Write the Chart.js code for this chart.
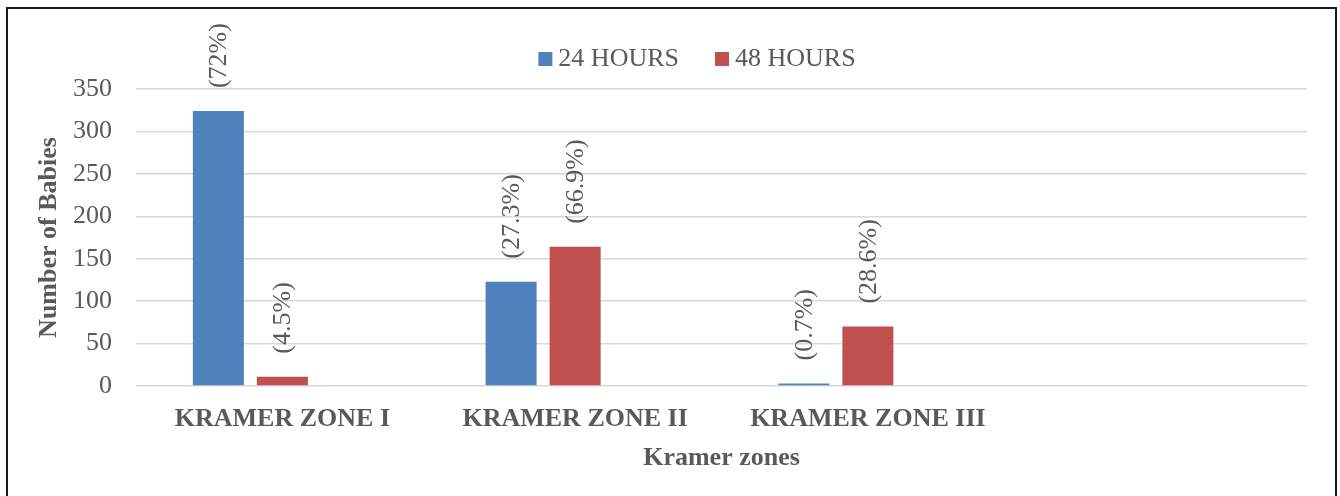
<!DOCTYPE html>
<html>
<head>
<meta charset="utf-8">
<script src="https://cdn.jsdelivr.net/npm/chart.js@4.4.1/dist/chart.umd.min.js"></script>
<style>
  html, body { margin: 0; padding: 0; background: #fff; overflow: hidden; }
  #wrap { position: absolute; left: 0; top: 0; width: 1340px; height: 496px; }
  #frame {
    position: absolute; left: 6px; top: 7px; width: 1327px; height: 600px;
    border: 2px solid #1a1a1a; pointer-events: none;
  }
</style>
</head>
<body>
<div id="wrap"><canvas id="kramerChart"></canvas></div>
<div id="frame"></div>
<script>
/* -------------------------------------------------------
   Data
------------------------------------------------------- */
const zones     = ['KRAMER ZONE I', 'KRAMER ZONE II', 'KRAMER ZONE III', ''];
const hours24   = [324, 123, 3, null];
const hours48   = [11, 164, 70, null];
const pct24     = ['(72%)', '(27.3%)', '(0.7%)', ''];
const pct48     = ['(4.5%)', '(66.9%)', '(28.6%)', ''];
const emptySlot = [null, null, null, null]; // unused third series keeps the spacing
const yMin = 0, yMax = 350, yStep = 50;

const COLORS = {
  blue: '#4F81BD',
  red:  '#C0504D',
  text: '#595959',
  grid: '#D9D9D9',
};
const FONT = "'Liberation Serif', 'Times New Roman', serif";

/* -------------------------------------------------------
   Rotated percentage labels above each bar
------------------------------------------------------- */
const barLabels = {
  id: 'barLabels',
  afterDatasetsDraw(chart) {
    const ctx = chart.ctx;
    ctx.save();
    ctx.font = '26px ' + FONT;
    ctx.fillStyle = COLORS.text;
    ctx.textAlign = 'left';
    ctx.textBaseline = 'middle';
    chart.data.datasets.forEach((ds, di) => {
      if (!ds.pct) return;
      chart.getDatasetMeta(di).data.forEach((bar, i) => {
        if (ds.data[i] == null || !ds.pct[i]) return;
        ctx.save();
        ctx.translate(bar.x + 1, bar.y - 23);
        ctx.rotate(-Math.PI / 2);
        ctx.fillText(ds.pct[i], 0, 0);
        ctx.restore();
      });
    });
    ctx.restore();
  }
};

/* -------------------------------------------------------
   Legend drawn at the top, centred like the original
------------------------------------------------------- */
const topLegend = {
  id: 'topLegend',
  afterDraw(chart) {
    const ctx = chart.ctx;
    const items = chart.data.datasets.filter(d => d.label);
    ctx.save();
    ctx.font = '26px ' + FONT;
    ctx.textBaseline = 'alphabetic';
    const box = 14, boxGap = 6, itemGap = 36;
    const widths = items.map(d => box + boxGap + ctx.measureText(d.label).width);
    const total = widths.reduce((a, b) => a + b, 0) + itemGap * (items.length - 1);
    let x = 697 - total / 2;
    const baseY = 66;
    items.forEach((d, i) => {
      ctx.fillStyle = d.backgroundColor;
      ctx.fillRect(x, baseY - box, box, box);
      ctx.fillStyle = COLORS.text;
      ctx.fillText(d.label, x + box + boxGap, baseY);
      x += widths[i] + itemGap;
    });
    ctx.restore();
  }
};

/* -------------------------------------------------------
   Chart
------------------------------------------------------- */
function initKramerChart(canvasId) {
  const ctx = document.getElementById(canvasId);
  if (!ctx) return;

  return new Chart(ctx, {
    type: 'bar',
    data: {
      labels: zones,
      datasets: [
        { label: '24 HOURS', data: hours24, pct: pct24, backgroundColor: COLORS.blue },
        { label: '48 HOURS', data: hours48, pct: pct48, backgroundColor: COLORS.red },
        { label: '', data: emptySlot, backgroundColor: 'rgba(0,0,0,0)' },
      ]
    },
    options: {
      responsive: true,
      maintainAspectRatio: false,
      animation: false,
      categoryPercentage: 0.656,
      barPercentage: 0.797,
      layout: { padding: { left: 0, right: 33, top: 89, bottom: 0 } },
      plugins: {
        legend: { display: false },
        tooltip: { enabled: false }
      },
      scales: {
        x: {
          grid: { display: false, drawTicks: false },
          border: { display: false },
          ticks: {
            color: COLORS.text,
            padding: 18,
            maxRotation: 0,
            autoSkip: false,
            font: { family: FONT, size: 26, weight: 'bold', lineHeight: 1.2 }
          },
          title: {
            display: true,
            text: 'Kramer zones',
            color: COLORS.text,
            font: { family: FONT, size: 26, weight: 'bold', lineHeight: 1.2 },
            padding: { top: 0, bottom: 22 }
          },
          afterFit: scale => { scale.height = 110; }
        },
        y: {
          min: yMin,
          max: yMax,
          grid: { color: COLORS.grid, lineWidth: 1.5, drawTicks: false },
          border: { display: false },
          ticks: {
            stepSize: yStep,
            color: COLORS.text,
            padding: 24,
            font: { family: FONT, size: 26, lineHeight: 1.2 }
          },
          title: {
            display: true,
            text: 'Number of Babies',
            color: COLORS.text,
            font: { family: FONT, size: 26, weight: 'bold', lineHeight: 1.2 },
            padding: { top: 34, bottom: 0 }
          },
          afterFit: scale => { scale.width = 136; }
        }
      }
    },
    plugins: [barLabels, topLegend]
  });
}

document.addEventListener('DOMContentLoaded', () => {
  initKramerChart('kramerChart');
});
</script>
</body>
</html>
